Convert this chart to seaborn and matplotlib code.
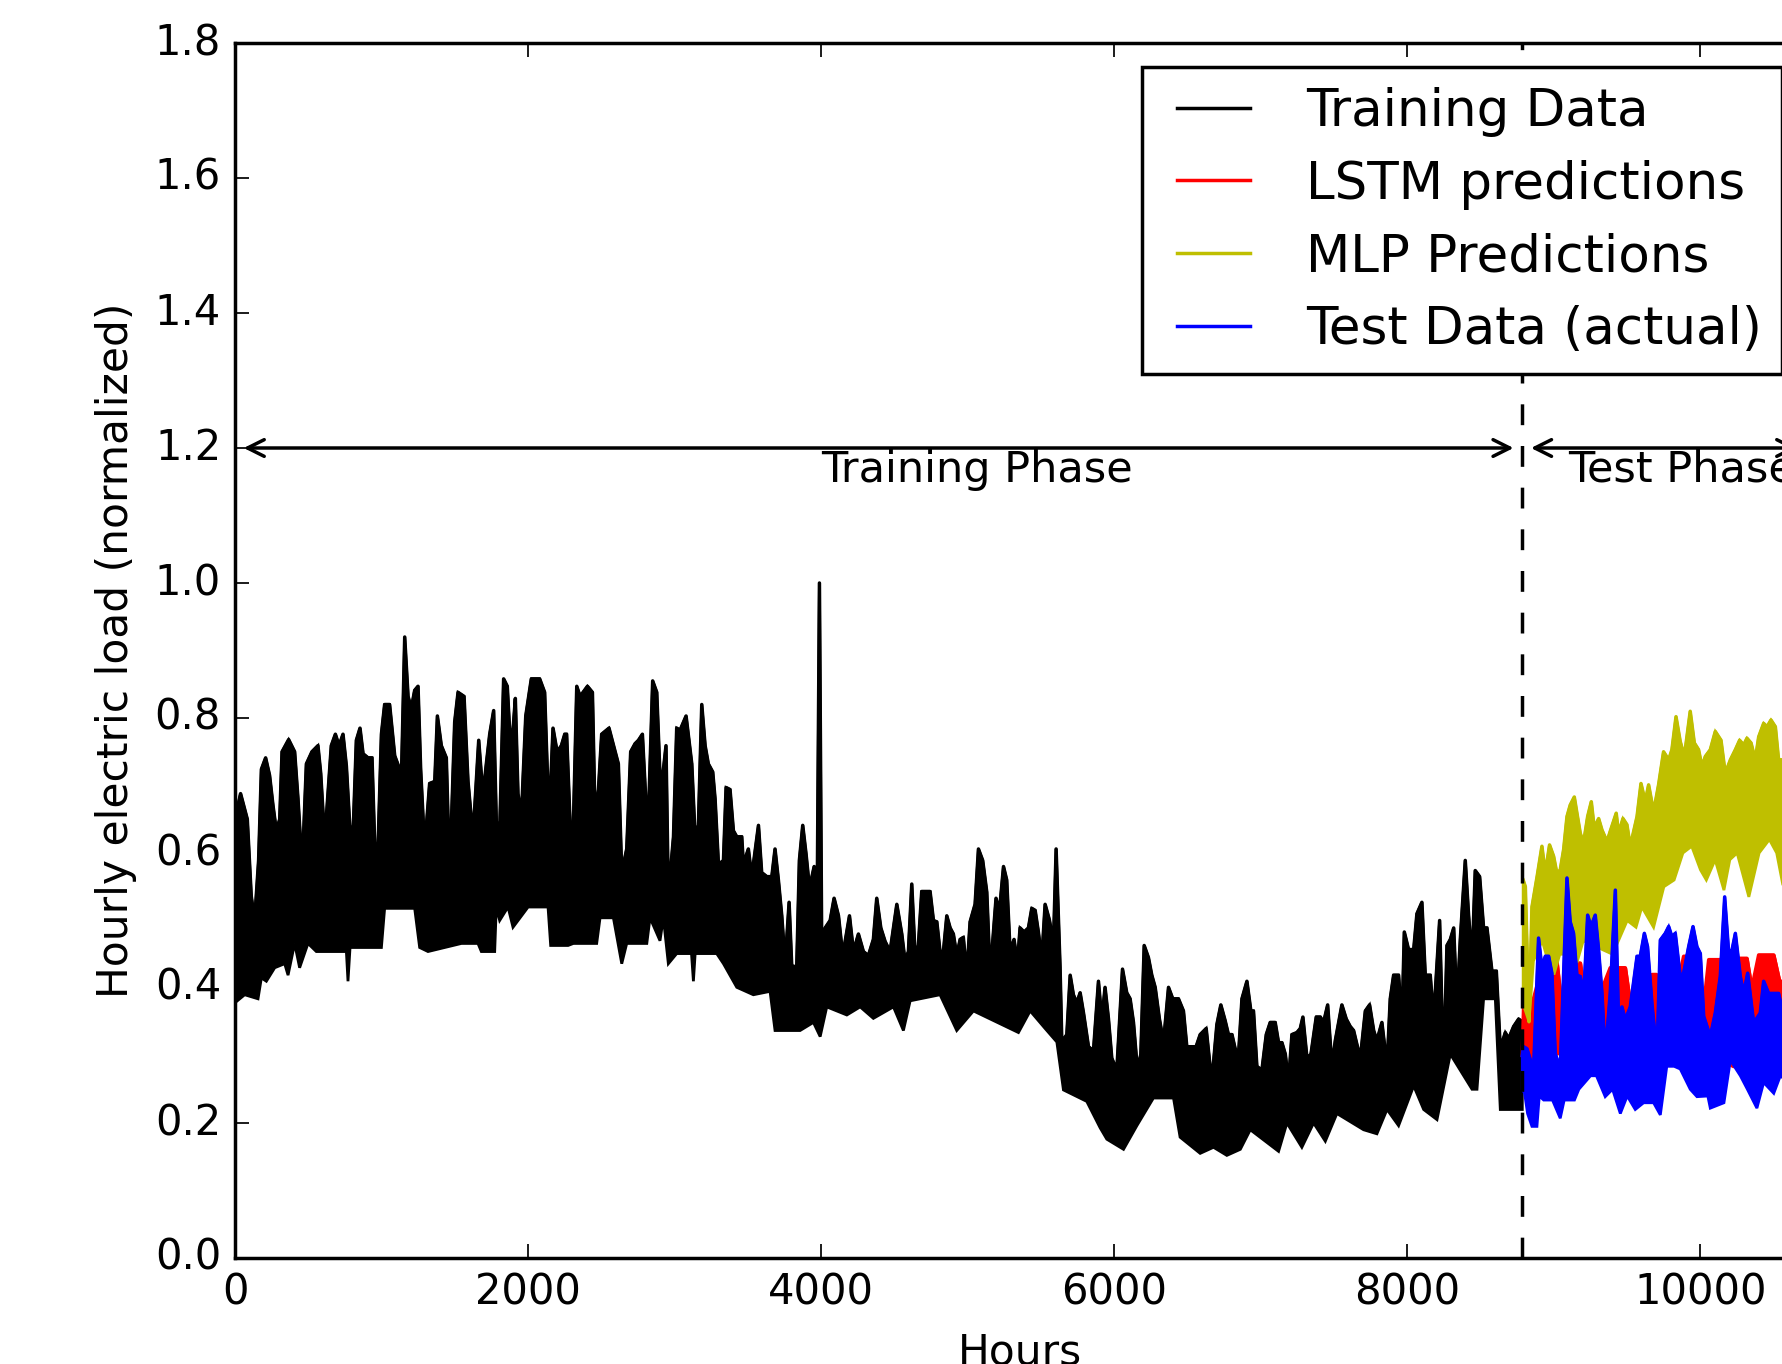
import matplotlib
matplotlib.use("Agg")
import matplotlib.pyplot as plt
import seaborn as sns

# ---------------- data ----------------
split_hour = 8784
x_max = 10720

# Training data: spiky upper profile
train_hours = [0, 38, 84, 111, 134, 161, 180, 209, 236, 259, 282, 305, 321, 366, 407, 430, 448, 464, 487, 525,
               566, 585, 612, 657, 685, 710, 737, 760, 783, 805, 828, 853, 874, 908, 935, 953, 976, 999, 1021, 1055,
               1090, 1124, 1135, 1158, 1181, 1203, 1226, 1249, 1267, 1294, 1328, 1363, 1381, 1408, 1442, 1465, 1499, 1522, 1563, 1590,
               1624, 1663, 1692, 1715, 1738, 1765, 1783, 1806, 1833, 1858, 1874, 1897, 1913, 1931, 1954, 1984, 2022, 2079, 2113, 2132,
               2148, 2170, 2198, 2227, 2250, 2263, 2286, 2309, 2332, 2355, 2405, 2439, 2457, 2480, 2502, 2552, 2616, 2639, 2673, 2700,
               2730, 2753, 2780, 2805, 2821, 2850, 2878, 2900, 2919, 2941, 2957, 2992, 3014, 3037, 3078, 3117, 3139, 3162, 3185, 3208,
               3230, 3260, 3276, 3299, 3333, 3351, 3378, 3401, 3424, 3458, 3469, 3503, 3526, 3572, 3594, 3629, 3663, 3685, 3708, 3731,
               3754, 3781, 3799, 3833, 3851, 3874, 3897, 3920, 3952, 3970, 3988, 4004, 4027, 4061, 4088, 4118, 4147, 4193, 4220, 4254,
               4288, 4322, 4356, 4379, 4407, 4436, 4470, 4516, 4550, 4572, 4595, 4618, 4641, 4663, 4686, 4743, 4766, 4789, 4811, 4834,
               4857, 4880, 4902, 4925, 4948, 4970, 4993, 5016, 5050, 5073, 5102, 5130, 5153, 5193, 5216, 5244, 5266, 5289, 5316, 5339,
               5357, 5385, 5414, 5437, 5460, 5482, 5505, 5528, 5557, 5585, 5603, 5630, 5642, 5676, 5699, 5721, 5744, 5767, 5790, 5824,
               5858, 5892, 5915, 5937, 5960, 5983, 6017, 6056, 6085, 6108, 6131, 6158, 6181, 6204, 6233, 6256, 6279, 6308, 6336, 6370,
               6399, 6438, 6472, 6495, 6529, 6558, 6586, 6627, 6665, 6700, 6727, 6756, 6779, 6803, 6825, 6848, 6871, 6905, 6932, 6950,
               6973, 7007, 7037, 7064, 7098, 7121, 7144, 7167, 7189, 7212, 7246, 7269, 7287, 7315, 7342, 7378, 7406, 7428, 7456, 7485,
               7508, 7553, 7583, 7610, 7633, 7656, 7679, 7713, 7742, 7770, 7792, 7826, 7861, 7883, 7906, 7940, 7963, 7979, 8008, 8043,
               8065, 8099, 8122, 8156, 8179, 8220, 8247, 8270, 8293, 8316, 8338, 8361, 8395, 8418, 8441, 8463, 8493, 8520, 8543, 8577,
               8607, 8634, 8668, 8691, 8725, 8759, 8784]
train_load = [0.65, 0.688, 0.65, 0.536, 0.50, 0.589, 0.724, 0.741, 0.715, 0.671, 0.633, 0.65, 0.75, 0.768, 0.75, 0.68, 0.615, 0.606, 0.732, 0.75,
              0.759, 0.718, 0.618, 0.759, 0.776, 0.759, 0.776, 0.729, 0.641, 0.624, 0.767, 0.785, 0.747, 0.741, 0.741, 0.615, 0.609, 0.776, 0.82, 0.82,
              0.744, 0.724, 0.706, 0.92, 0.832, 0.814, 0.841, 0.847, 0.724, 0.606, 0.703, 0.706, 0.803, 0.759, 0.741, 0.565, 0.794, 0.838, 0.832, 0.706,
              0.624, 0.767, 0.685, 0.732, 0.776, 0.811, 0.647, 0.63, 0.858, 0.847, 0.782, 0.782, 0.829, 0.688, 0.653, 0.803, 0.858, 0.858, 0.838, 0.715,
              0.671, 0.785, 0.75, 0.759, 0.776, 0.776, 0.647, 0.641, 0.847, 0.832, 0.847, 0.838, 0.653, 0.694, 0.776, 0.785, 0.732, 0.571, 0.606, 0.75,
              0.762, 0.767, 0.776, 0.671, 0.653, 0.855, 0.838, 0.715, 0.715, 0.759, 0.536, 0.624, 0.785, 0.782, 0.803, 0.732, 0.627, 0.641, 0.82, 0.759,
              0.732, 0.72, 0.68, 0.583, 0.589, 0.697, 0.694, 0.633, 0.624, 0.624, 0.583, 0.606, 0.565, 0.641, 0.571, 0.565, 0.565, 0.606, 0.56, 0.507,
              0.436, 0.527, 0.433, 0.431, 0.589, 0.641, 0.598, 0.548, 0.58, 0.448, 1.0, 0.448, 0.489, 0.50, 0.533, 0.507, 0.448, 0.507, 0.454, 0.48,
              0.454, 0.448, 0.472, 0.533, 0.489, 0.469, 0.454, 0.524, 0.48, 0.44, 0.454, 0.554, 0.448, 0.463, 0.543, 0.543, 0.50, 0.498, 0.454, 0.454,
              0.507, 0.489, 0.48, 0.448, 0.472, 0.475, 0.419, 0.498, 0.524, 0.606, 0.589, 0.542, 0.419, 0.533, 0.513, 0.58, 0.56, 0.454, 0.472, 0.436,
              0.489, 0.483, 0.489, 0.518, 0.515, 0.483, 0.442, 0.524, 0.501, 0.466, 0.606, 0.431, 0.32, 0.331, 0.419, 0.39, 0.378, 0.393, 0.363, 0.313,
              0.307, 0.41, 0.352, 0.401, 0.355, 0.296, 0.278, 0.428, 0.393, 0.384, 0.349, 0.278, 0.302, 0.463, 0.445, 0.419, 0.401, 0.354, 0.32, 0.401,
              0.384, 0.384, 0.366, 0.313, 0.313, 0.313, 0.331, 0.34, 0.26, 0.346, 0.375, 0.352, 0.331, 0.331, 0.31, 0.302, 0.384, 0.41, 0.366, 0.366,
              0.284, 0.278, 0.331, 0.349, 0.349, 0.319, 0.319, 0.302, 0.26, 0.331, 0.334, 0.34, 0.357, 0.296, 0.302, 0.357, 0.357, 0.349, 0.375, 0.284,
              0.322, 0.375, 0.354, 0.343, 0.337, 0.316, 0.296, 0.366, 0.375, 0.337, 0.322, 0.349, 0.284, 0.384, 0.419, 0.419, 0.346, 0.483, 0.457, 0.457,
              0.51, 0.527, 0.419, 0.419, 0.354, 0.50, 0.272, 0.463, 0.472, 0.489, 0.372, 0.472, 0.589, 0.507, 0.436, 0.574, 0.565, 0.489, 0.489, 0.425,
              0.425, 0.31, 0.334, 0.325, 0.343, 0.354, 0.35]

# Training data: lower envelope (night-time minima)
train_low_hours = [0, 10, 66, 157, 180, 214, 271, 339, 362, 407, 441, 498, 555, 635, 760, 771, 785, 817, 999, 1021,
                   1226, 1260, 1317, 1545, 1658, 1681, 1772, 1783, 1806, 1863, 1897, 2000, 2136, 2154, 2273, 2309, 2468, 2491, 2582, 2639,
                   2673, 2810, 2832, 2900, 2923, 2957, 3014, 3115, 3128, 3140, 3173, 3287, 3333, 3424, 3537, 3651, 3685, 3856, 3947, 3993,
                   4038, 4175, 4266, 4356, 4493, 4561, 4607, 4811, 4925, 5039, 5346, 5426, 5528, 5608, 5653, 5812, 5903, 5949, 6063, 6154,
                   6267, 6404, 6449, 6586, 6677, 6768, 6860, 6928, 7121, 7178, 7280, 7360, 7440, 7519, 7701, 7792, 7861, 7940, 8043, 8111,
                   8202, 8293, 8441, 8475, 8520, 8600, 8634, 8784]
train_low = [0.39, 0.38, 0.39, 0.384, 0.415, 0.41, 0.43, 0.436, 0.419, 0.466, 0.43, 0.466, 0.454, 0.454, 0.454, 0.41, 0.46, 0.46, 0.46, 0.518,
             0.518, 0.46, 0.454, 0.466, 0.466, 0.454, 0.454, 0.52, 0.50, 0.52, 0.49, 0.52, 0.52, 0.463, 0.463, 0.466, 0.466, 0.504, 0.504, 0.436,
             0.466, 0.466, 0.504, 0.47, 0.504, 0.436, 0.451, 0.451, 0.41, 0.451, 0.451, 0.451, 0.436, 0.401, 0.39, 0.395, 0.337, 0.337, 0.349, 0.328,
             0.372, 0.36, 0.372, 0.355, 0.372, 0.337, 0.381, 0.39, 0.337, 0.366, 0.334, 0.366, 0.34, 0.32, 0.249, 0.232, 0.193, 0.176, 0.161, 0.196,
             0.237, 0.237, 0.179, 0.155, 0.164, 0.152, 0.161, 0.19, 0.158, 0.20, 0.164, 0.20, 0.173, 0.214, 0.19, 0.184, 0.22, 0.196, 0.255, 0.22,
             0.205, 0.302, 0.25, 0.25, 0.384, 0.384, 0.22, 0.22]

# LSTM predictions (red): upper profile and lower edge
lstm_hours = [8784, 8795, 8830, 8880, 8930, 9020, 9050, 9100, 9123, 9180, 9210, 9280, 9330, 9384, 9487, 9520, 9580, 9640, 9670, 9700,
              9740, 9800, 9850, 9885, 9942, 9980, 10020, 10056, 10135, 10170, 10220, 10250, 10317, 10350, 10397, 10500, 10540, 10600]
lstm_high = [0.30, 0.39, 0.36, 0.40, 0.44, 0.44, 0.38, 0.40, 0.437, 0.437, 0.39, 0.37, 0.40, 0.43, 0.43, 0.38, 0.37, 0.40, 0.42, 0.42,
             0.38, 0.37, 0.41, 0.447, 0.447, 0.41, 0.37, 0.442, 0.442, 0.39, 0.38, 0.444, 0.444, 0.40, 0.449, 0.449, 0.41, 0.41]
lstm_low = [0.28, 0.284, 0.284, 0.29, 0.30, 0.303, 0.303, 0.30, 0.29, 0.29, 0.29, 0.29, 0.29, 0.295, 0.295, 0.30, 0.30, 0.30, 0.30, 0.30,
            0.30, 0.30, 0.295, 0.295, 0.295, 0.30, 0.30, 0.30, 0.30, 0.29, 0.284, 0.284, 0.284, 0.29, 0.29, 0.29, 0.30, 0.30]

# MLP predictions (yellow): upper profile and lower envelope
mlp_hours = [8790, 8805, 8830, 8850, 8885, 8918, 8941, 8970, 8998, 9020, 9043, 9066, 9089, 9111, 9139, 9157, 9180, 9202, 9230, 9255,
             9275, 9305, 9328, 9362, 9384, 9425, 9441, 9471, 9498, 9521, 9567, 9594, 9623, 9646, 9680, 9714, 9748, 9783, 9805, 9833,
             9862, 9890, 9930, 9958, 9987, 10010, 10033, 10067, 10101, 10140, 10169, 10204, 10238, 10267, 10295, 10317, 10345, 10374, 10397, 10431,
             10454, 10481, 10511, 10533, 10560, 10600]
mlp_load = [0.56, 0.55, 0.35, 0.52, 0.565, 0.61, 0.57, 0.612, 0.595, 0.57, 0.575, 0.605, 0.654, 0.671, 0.683, 0.659, 0.629, 0.615, 0.654, 0.676,
            0.637, 0.651, 0.634, 0.617, 0.632, 0.659, 0.629, 0.651, 0.642, 0.61, 0.654, 0.703, 0.676, 0.701, 0.661, 0.701, 0.75, 0.738, 0.753, 0.802,
            0.765, 0.743, 0.81, 0.763, 0.753, 0.728, 0.743, 0.753, 0.78, 0.767, 0.718, 0.738, 0.753, 0.767, 0.76, 0.77, 0.763, 0.738, 0.772, 0.792,
            0.787, 0.797, 0.787, 0.738, 0.738, 0.72]
mlp_low_hours = [8790, 8800, 8830, 8860, 8920, 8960, 9000, 9040, 9100, 9160, 9200, 9300, 9400, 9500, 9560, 9600, 9680, 9750, 9820, 9880,
                 9940, 10000, 10040, 10100, 10160, 10200, 10250, 10330, 10400, 10470, 10520, 10560, 10600]
mlp_low = [0.40, 0.37, 0.35, 0.44, 0.47, 0.44, 0.42, 0.45, 0.45, 0.44, 0.47, 0.46, 0.45, 0.50, 0.49, 0.52, 0.49, 0.55, 0.56, 0.60,
           0.61, 0.575, 0.56, 0.59, 0.545, 0.59, 0.60, 0.535, 0.60, 0.62, 0.60, 0.555, 0.56]

# Test data, actual (blue): upper profile and lower envelope
test_hours = [8784, 8793, 8816, 8861, 8895, 8918, 8941, 8964, 8986, 9009, 9043, 9089, 9111, 9134, 9157, 9180, 9203, 9230, 9253, 9282,
              9305, 9328, 9350, 9384, 9419, 9441, 9464, 9487, 9521, 9567, 9589, 9617, 9639, 9669, 9703, 9726, 9760, 9783, 9805, 9828,
              9862, 9885, 9919, 9949, 9976, 9999, 10022, 10067, 10101, 10135, 10165, 10192, 10215, 10238, 10272, 10295, 10322, 10363, 10408, 10431,
              10465, 10499, 10533, 10558, 10600]
test_load = [0.30, 0.313, 0.31, 0.278, 0.474, 0.43, 0.447, 0.447, 0.422, 0.303, 0.28, 0.563, 0.498, 0.481, 0.419, 0.417, 0.387, 0.508, 0.491, 0.508,
             0.456, 0.392, 0.30, 0.392, 0.545, 0.35, 0.372, 0.353, 0.372, 0.447, 0.447, 0.481, 0.461, 0.377, 0.30, 0.471, 0.481, 0.491, 0.476, 0.481,
             0.417, 0.422, 0.461, 0.491, 0.461, 0.451, 0.358, 0.328, 0.363, 0.417, 0.535, 0.454, 0.456, 0.481, 0.417, 0.392, 0.422, 0.348, 0.363, 0.41,
             0.392, 0.392, 0.392, 0.368, 0.37]
test_low_hours = [8784, 8800, 8820, 8850, 8884, 8900, 8930, 8990, 9043, 9070, 9140, 9170, 9250, 9290, 9350, 9400, 9453, 9500, 9555, 9612,
                  9680, 9726, 9770, 9820, 9862, 9930, 9976, 10050, 10067, 10160, 10204, 10272, 10320, 10385, 10431, 10500, 10545, 10600]
test_low = [0.25, 0.244, 0.214, 0.195, 0.195, 0.24, 0.234, 0.234, 0.207, 0.234, 0.234, 0.25, 0.27, 0.27, 0.239, 0.25, 0.214, 0.24, 0.22, 0.23,
            0.23, 0.212, 0.284, 0.284, 0.28, 0.25, 0.239, 0.24, 0.222, 0.23, 0.293, 0.27, 0.25, 0.222, 0.26, 0.244, 0.27, 0.26]

legend_labels = ["Training Data", "LSTM predictions", "MLP Predictions", "Test Data (actual)"]


def fit(*arrs):
    n = min(len(a) for a in arrs)
    return [list(a[:n]) for a in arrs]


# ---------------- style ----------------
plt.style.use("classic")
plt.rcParams["font.family"] = ["DejaVu Sans"]
plt.rcParams["savefig.facecolor"] = "white"

DPI = 250
W, H = 1782, 1364
LW = 1.0
fig = plt.figure(figsize=(W / DPI, H / DPI), dpi=DPI, facecolor="white")
ax = fig.add_axes([235 / W, 1 - 1258 / H, (1806 - 235) / W, (1258 - 43) / H])

handles = []


def dense_series(top_h, top_v, low_h, low_v, color, z):
    top_h, top_v = fit(top_h, top_v)
    low_h, low_v = fit(low_h, low_v)
    # dense hourly oscillation: filled region between lower envelope and upper profile
    ax.fill(top_h + low_h[::-1], top_v + low_v[::-1], color=color, lw=0.8, zorder=z)
    sns.lineplot(x=top_h, y=top_v, color=color, ax=ax, estimator=None, sort=False, zorder=z + 0.05)
    line = ax.lines[-1]
    line.set_linewidth(LW)
    return line


handles.append(dense_series(train_hours, train_load, train_low_hours, train_low, "k", 2.0))

# LSTM (same grid for upper and lower edge)
lh, lhi, llo = fit(lstm_hours, lstm_high, lstm_low)
ax.fill_between(lh, llo, lhi, color="r", lw=0.8, zorder=2.2)
sns.lineplot(x=lh, y=lhi, color="r", ax=ax, estimator=None, sort=False, zorder=2.25)
ax.lines[-1].set_linewidth(LW)
handles.append(ax.lines[-1])

handles.append(dense_series(mlp_hours, mlp_load, mlp_low_hours, mlp_low, "y", 2.4))
handles.append(dense_series(test_hours, test_load, test_low_hours, test_low, "b", 2.6))

# split line, phase arrows and labels
ax.axvline(split_hour, color="k", ls="--", lw=1, zorder=3)
ax.annotate("", xy=(0, 1.2), xytext=(split_hour, 1.2), annotation_clip=False,
            arrowprops=dict(arrowstyle="<->", color="k", lw=1, shrinkA=2.5, shrinkB=2.5), zorder=3)
ax.annotate("", xy=(split_hour, 1.2), xytext=(x_max, 1.2), annotation_clip=False,
            arrowprops=dict(arrowstyle="<->", color="k", lw=1, shrinkA=2.5, shrinkB=2.5), zorder=3)
ax.text(4000, 1.15, "Training Phase", fontsize=12.4, zorder=3)
ax.text(9100, 1.15, "Test Phase", fontsize=12.4, zorder=3)

ax.set_xlim(0, x_max)
ax.set_ylim(0, 1.8)
ax.set_xticks([0, 2000, 4000, 6000, 8000, 10000])
ax.set_yticks([0.0, 0.2, 0.4, 0.6, 0.8, 1.0, 1.2, 1.4, 1.6, 1.8])
ax.set_xlabel("Hours", fontsize=12.2)
ax.set_ylabel("Hourly electric load (normalized)", fontsize=12.2)

leg = ax.legend(handles, legend_labels, loc="upper right", numpoints=2, fontsize=14.85,
                labelspacing=0.44, borderaxespad=0.47, borderpad=0.38)
leg.set_zorder(10)

fig.savefig("out.png", dpi=DPI, facecolor="white")
